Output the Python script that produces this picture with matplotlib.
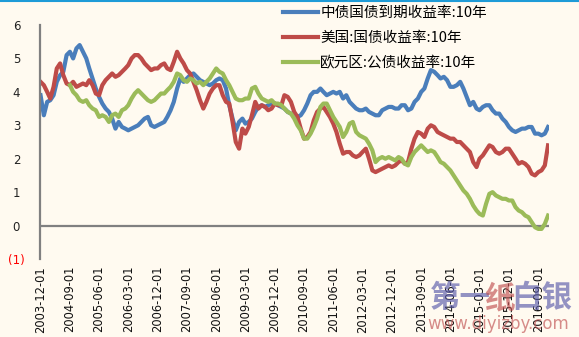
import numpy as np
import pandas as pd
import matplotlib
matplotlib.use("Agg")
import matplotlib.pyplot as plt
import matplotlib.dates as mdates
from matplotlib.lines import Line2D

plt.rcParams['font.family'] = ['Noto Sans CJK SC', 'DejaVu Sans']

# monthly observations, 2003-12 .. 2016-12
dates = pd.date_range("2003-12-01", "2016-12-01", freq="MS")

china_10y = [
    3.9, 3.3, 3.7, 3.75, 3.9, 4.3, 4.5, 4.6, 5.1, 5.2, 5.0, 5.3, 5.4, 5.2, 5.0, 4.7,
    4.4, 4.1, 3.85, 3.65, 3.5, 3.4, 3.2, 2.9, 3.1, 2.95, 2.9, 2.85, 2.9, 2.95, 3.0, 3.1,
    3.2, 3.25, 3.0, 2.95, 3.0, 3.05, 3.1, 3.25, 3.45, 3.7, 4.1, 4.4, 4.3, 4.4, 4.5, 4.55,
    4.45, 4.35, 4.3, 4.25, 4.2, 4.25, 4.35, 4.4, 4.35, 4.1, 3.6, 3.2, 2.85, 3.1, 3.2, 3.05,
    3.1, 3.2, 3.4, 3.55, 3.6, 3.55, 3.6, 3.65, 3.65, 3.6, 3.55, 3.5, 3.4, 3.35, 3.3, 3.25,
    3.3, 3.45, 3.65, 3.9, 4.0, 4.0, 4.1, 4.0, 3.9, 3.95, 4.0, 3.95, 4.0, 3.8, 3.9, 3.7,
    3.6, 3.5, 3.45, 3.45, 3.5, 3.4, 3.35, 3.3, 3.3, 3.45, 3.5, 3.55, 3.55, 3.5, 3.5, 3.6,
    3.6, 3.45, 3.5, 3.7, 3.8, 4.0, 4.1, 4.4, 4.65, 4.6, 4.5, 4.4, 4.45, 4.35, 4.15, 4.15,
    4.2, 4.3, 4.1, 3.85, 3.6, 3.7, 3.5, 3.45, 3.55, 3.6, 3.6, 3.45, 3.35, 3.35, 3.2, 3.1,
    2.95, 2.85, 2.8, 2.85, 2.9, 2.9, 2.95, 2.95, 2.75, 2.75, 2.7, 2.75, 2.95,
]

us_10y = [
    4.3, 4.2, 4.0, 3.8, 4.15, 4.7, 4.85, 4.5, 4.25, 4.2, 4.3, 4.15, 4.2, 4.25, 4.2, 4.35,
    4.2, 3.95, 3.9, 4.2, 4.35, 4.45, 4.55, 4.45, 4.5, 4.6, 4.7, 4.8, 5.0, 5.1, 5.1, 5.0,
    4.85, 4.75, 4.65, 4.7, 4.7, 4.8, 4.85, 4.7, 4.65, 4.9, 5.2, 5.0, 4.85, 4.65, 4.55, 4.3,
    4.05, 3.75, 3.5, 3.7, 3.95, 4.1, 4.2, 4.2, 3.9, 3.7, 3.65, 3.1, 2.5, 2.3, 2.9, 2.75,
    2.95, 3.3, 3.7, 3.5, 3.6, 3.55, 3.45, 3.5, 3.65, 3.6, 3.6, 3.9, 3.85, 3.7, 3.4, 3.25,
    2.9, 2.6, 2.65, 2.8, 3.15, 3.4, 3.5, 3.55, 3.4, 3.25, 3.05, 2.8, 2.45, 2.15, 2.2, 2.2,
    2.1, 2.05, 2.1, 2.2, 2.3, 2.0, 1.65, 1.6, 1.65, 1.7, 1.75, 1.8, 1.75, 1.8, 1.9, 1.95,
    1.85, 1.9, 2.3, 2.6, 2.8, 2.75, 2.65, 2.9, 3.0, 2.95, 2.8, 2.75, 2.7, 2.65, 2.6, 2.6,
    2.5, 2.5, 2.4, 2.3, 2.2, 1.9, 1.75, 2.0, 2.1, 2.25, 2.4, 2.35, 2.2, 2.15, 2.2, 2.3,
    2.3, 2.15, 2.0, 1.85, 1.9, 1.85, 1.75, 1.55, 1.5, 1.6, 1.65, 1.8, 2.4,
]

euro_10y = [
    np.nan, np.nan, np.nan, np.nan, np.nan, np.nan, np.nan, np.nan, np.nan, 4.2, 4.0, 3.9,
    3.75, 3.7, 3.75, 3.6, 3.5, 3.45, 3.25, 3.3, 3.25, 3.1, 3.3, 3.35, 3.25, 3.45, 3.5, 3.6,
    3.8, 3.95, 4.05, 3.95, 3.85, 3.75, 3.7, 3.75, 3.85, 3.95, 3.95, 4.05, 4.15, 4.3, 4.55, 4.5,
    4.35, 4.3, 4.4, 4.35, 4.25, 4.3, 4.2, 4.3, 4.4, 4.55, 4.7, 4.6, 4.55, 4.35, 4.2, 4.0,
    3.8, 3.75, 3.75, 3.8, 3.8, 4.1, 4.15, 3.95, 3.8, 3.75, 3.7, 3.75, 3.65, 3.65, 3.6, 3.5,
    3.4, 3.35, 3.2, 3.0, 2.85, 2.6, 2.6, 2.75, 2.95, 3.2, 3.55, 3.65, 3.65, 3.45, 3.25, 3.1,
    2.95, 2.65, 2.8, 3.05, 3.1, 2.8, 2.7, 2.65, 2.6, 2.45, 2.25, 1.9, 2.0, 2.05, 2.0, 2.05,
    2.0, 1.95, 2.05, 2.0, 1.85, 1.8, 2.05, 2.2, 2.3, 2.4, 2.3, 2.2, 2.25, 2.2, 2.05, 1.9,
    1.85, 1.75, 1.65, 1.5, 1.35, 1.2, 1.05, 0.95, 0.8, 0.6, 0.45, 0.35, 0.3, 0.65, 0.95, 1.0,
    0.9, 0.85, 0.8, 0.8, 0.75, 0.75, 0.55, 0.45, 0.4, 0.3, 0.25, 0.1, -0.05, -0.1, -0.1, 0.05,
    0.3,
]

series_names = ["中债国债到期收益率:10年", "美国:国债收益率:10年", "欧元区:公债收益率:10年"]
series_colors = ["#4A7EBB", "#BE4B48", "#9BBB59"]

tick_dates = pd.date_range("2003-12-01", "2016-09-01", freq="9MS")
y_ticks = [-1, 0, 1, 2, 3, 4, 5, 6]
y_labels = ["(1)", "0", "1", "2", "3", "4", "5", "6"]

bg = "#FFFAF0"
fig = plt.figure(figsize=(5.79, 3.37), dpi=100, facecolor=bg)
ax = fig.add_axes([40 / 579, 78 / 337, (549 - 40) / 579, (259 - 25) / 337])
ax.set_facecolor(bg)

for vals, name, col in zip([china_10y, us_10y, euro_10y], series_names, series_colors):
    ax.plot(dates, vals, color=col, lw=3.0, label=name, solid_joinstyle="round")

ax.axhline(0, color="#808080", lw=1.6, zorder=1)

ax.set_ylim(-1, 6)
ax.set_xlim(pd.Timestamp("2003-11-26"), pd.Timestamp("2016-12-10"))

ax.set_yticks(y_ticks)
ax.set_yticklabels(y_labels)
for lab in ax.get_yticklabels():
    lab.set_horizontalalignment("center")
    lab.set_fontfamily("DejaVu Sans")
    lab.set_fontsize(8.5)
    lab.set_color("red" if lab.get_text() == "(1)" else "#222222")
ax.tick_params(axis="y", length=0, pad=17)

ax.set_xticks(tick_dates)
ax.xaxis.set_major_formatter(mdates.DateFormatter("%Y-%m-%d"))
ax.tick_params(axis="x", length=0, pad=5, labelrotation=90, labelsize=8.3, labelcolor="#111111")
for lab in ax.get_xticklabels():
    lab.set_fontfamily("DejaVu Sans")

for s in ["top", "right", "bottom"]:
    ax.spines[s].set_visible(False)
ax.spines["left"].set_color("#808080")
ax.spines["left"].set_linewidth(1.6)

leg = fig.legend(loc="upper left", bbox_to_anchor=(283 / 579, 1 - 6 / 337), frameon=False,
                 fontsize=10.5, handlelength=2.4, handletextpad=0.15, labelspacing=0.75,
                 borderaxespad=0, borderpad=0)
for line in leg.get_lines():
    line.set_linewidth(3.0)

# top border line
fig.add_artist(Line2D([0, 1], [1 - 1 / 337, 1 - 1 / 337], transform=fig.transFigure,
                      color="#1E9BD7", lw=1.5))

# watermark
fig.text(430 / 579, 1 - 298 / 337, "第一", fontsize=22, color="#5A5AAA", alpha=0.65,
         va="center", ha="left", fontweight="bold")
fig.text(484 / 579, 1 - 298 / 337, "纸", fontsize=22, color="#C05050", alpha=0.65,
         va="center", ha="left", fontweight="bold")
fig.text(511 / 579, 1 - 298 / 337, "白银", fontsize=22, color="#5A5AAA", alpha=0.65,
         va="center", ha="left", fontweight="bold")
fig.text(498 / 579, 1 - 324 / 337, "www.diyizby.com", fontsize=12, color="#C05050",
         alpha=0.65, va="center", ha="center", family="DejaVu Sans")

fig.savefig("out.png", dpi=100, facecolor=bg)
